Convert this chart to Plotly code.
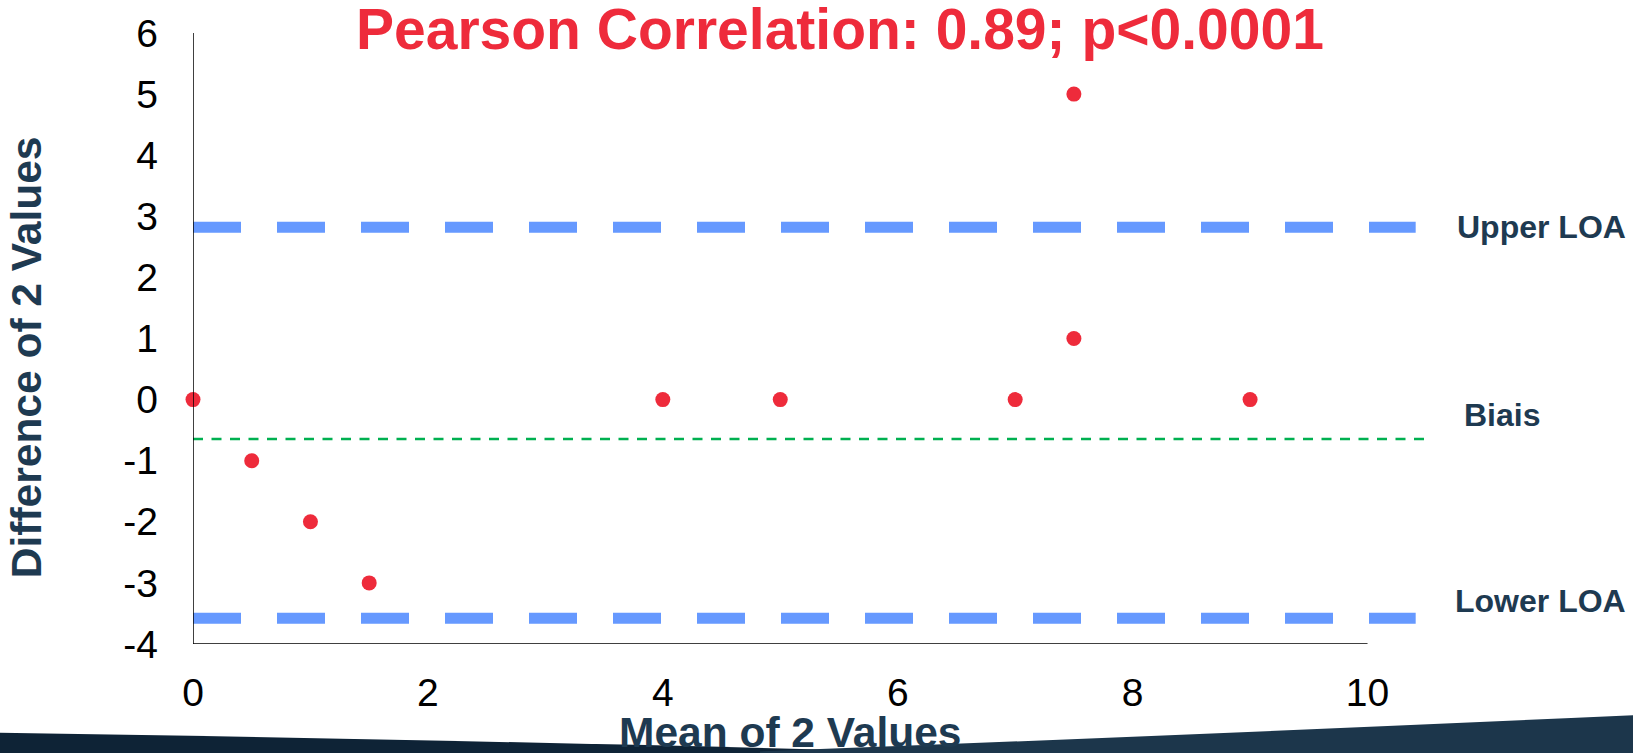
import plotly.graph_objects as go

# ---- data ----
mean_vals = [0, 0.5, 1, 1.5, 4, 5, 7, 7.5, 7.5, 9]
diff_vals = [0, -1, -2, -3, 0, 0, 0, 1, 5, 0]
upper_loa = 2.82
bias = -0.645
lower_loa = -3.58
loa_x = [0, 10.41]
bias_x = [0, 10.51]
x_ticks = [0, 2, 4, 6, 8, 10]
y_ticks = [-4, -3, -2, -1, 0, 1, 2, 3, 4, 5, 6]
y_tick_labels = ["-4", "-3", "-2", "-1", "0", "1", "2", "3", "4", "5", "6"]
title_text = "Pearson Correlation: 0.89; p<0.0001"
x_title = "Mean of 2 Values"
y_title = "Difference of 2 Values"
line_labels = ["Upper LOA", "Biais", "Lower LOA"]

# ---- layout geometry ----
W, H = 1633, 753
L, R, T, B = 193, 195, 24, 109
PW = W - L - R
PH = H - T - B


def px(X):
    return (X - L) / PW


def py(Y):
    return (H - B - Y) / PH


FONT = "Liberation Sans, Arial, Helvetica, sans-serif"
NAVY = "#1E3A51"
RED = "#EE2B3B"
BLUE = "#6699FF"
GREEN = "#00B050"

fig = go.Figure()

fig.add_trace(go.Scatter(x=loa_x, y=[upper_loa] * 2, mode="lines",
                         line=dict(color=BLUE, width=11, dash="48px,36px"),
                         hoverinfo="skip", showlegend=False))
fig.add_trace(go.Scatter(x=loa_x, y=[lower_loa] * 2, mode="lines",
                         line=dict(color=BLUE, width=11, dash="48px,36px"),
                         hoverinfo="skip", showlegend=False))
fig.add_trace(go.Scatter(x=bias_x, y=[bias] * 2, mode="lines",
                         line=dict(color=GREEN, width=2.5, dash="10px,8.5px"),
                         hoverinfo="skip", showlegend=False))
fig.add_trace(go.Scatter(x=mean_vals, y=diff_vals, mode="markers",
                         marker=dict(color=RED, size=15, line=dict(width=0)),
                         cliponaxis=False, showlegend=False))

fig.update_xaxes(range=[0, 10.6], tickvals=x_ticks, showgrid=False, zeroline=False,
                 showline=False, ticks="", ticklabelstandoff=22,
                 tickfont=dict(family=FONT, size=39, color="#000000"))
fig.update_yaxes(range=[-4, 6], tickvals=y_ticks, ticktext=y_tick_labels,
                 showgrid=False, zeroline=False,
                 showline=False, ticks="", ticklabelstandoff=34,
                 tickfont=dict(family=FONT, size=39, color="#000000"))

shapes = [
    dict(type="line", xref="x", yref="y", x0=0, x1=10, y0=-4, y1=-4,
         line=dict(color="#000000", width=1.5)),
    dict(type="line", xref="x", yref="y", x0=0, x1=0, y0=-4, y1=6,
         line=dict(color="#000000", width=1.5)),
    dict(type="path", xref="paper", yref="paper", layer="below",
         path=(f"M {px(-5)},{py(734)} Q {px(400)},{py(740)} {px(900)},{py(753)} "
               f"L {px(900)},{py(770)} L {px(-5)},{py(770)} Z"),
         fillcolor="#0E2336", line=dict(width=0)),
    dict(type="path", xref="paper", yref="paper", layer="below",
         path=(f"M {px(1640)},{py(716)} Q {px(1200)},{py(736)} {px(760)},{py(753)} "
               f"L {px(760)},{py(770)} L {px(1640)},{py(770)} Z"),
         fillcolor="#1C364B", line=dict(width=0)),
]

annotations = [
    dict(text=f"<b>{title_text}</b>", x=px(840), y=py(20), xref="paper", yref="paper",
         xanchor="center", yanchor="middle", showarrow=False,
         font=dict(family=FONT, size=57, color=RED)),
    dict(text=f"<b>{x_title}</b>", x=px(790), y=py(734), xref="paper", yref="paper",
         xanchor="center", yanchor="middle", showarrow=False,
         font=dict(family=FONT, size=42.5, color=NAVY)),
    dict(text=f"<b>{y_title}</b>", x=px(26), y=py(353), xref="paper", yref="paper",
         xanchor="center", yanchor="middle", showarrow=False, textangle=-90,
         font=dict(family=FONT, size=42.5, color=NAVY)),
    dict(text=f"<b>{line_labels[0]}</b>", x=px(1455), y=py(221), xref="paper", yref="paper",
         xanchor="left", yanchor="middle", showarrow=False,
         font=dict(family=FONT, size=32, color=NAVY)),
    dict(text=f"<b>{line_labels[1]}</b>", x=px(1462), y=py(412), xref="paper", yref="paper",
         xanchor="left", yanchor="middle", showarrow=False,
         font=dict(family=FONT, size=32, color=NAVY)),
    dict(text=f"<b>{line_labels[2]}</b>", x=px(1453), y=py(600), xref="paper", yref="paper",
         xanchor="left", yanchor="middle", showarrow=False,
         font=dict(family=FONT, size=32, color=NAVY)),
]

fig.update_layout(width=W, height=H, margin=dict(l=L, r=R, t=T, b=B, pad=0),
                  autosize=False, plot_bgcolor="white", paper_bgcolor="white",
                  shapes=shapes, annotations=annotations, showlegend=False)

fig.write_html("out.html", config={"displayModeBar": False},
               post_script="document.body.style.margin='0px';document.body.style.overflow='hidden';")
